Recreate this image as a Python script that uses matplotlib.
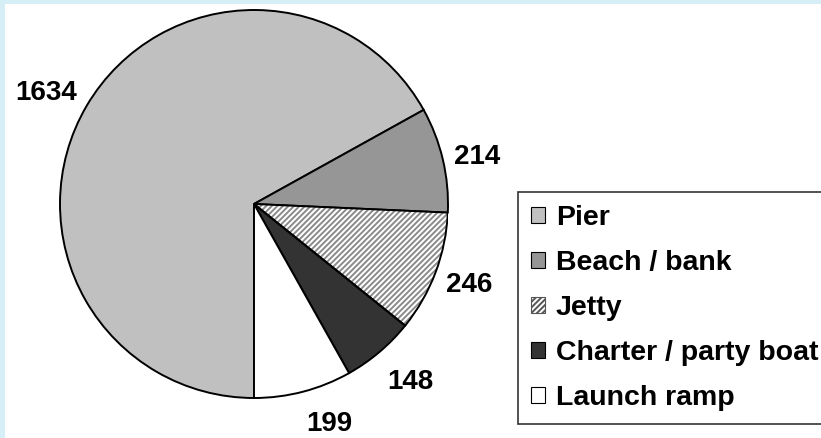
import matplotlib
matplotlib.use("Agg")
import matplotlib.pyplot as plt
from matplotlib.patches import Rectangle, Wedge
import numpy as np

plt.rcParams['font.family'] = ['Liberation Sans', 'DejaVu Sans']
plt.rcParams['hatch.linewidth'] = 1.4

# data
categories = ["Pier", "Beach / bank", "Jetty", "Charter / party boat", "Launch ramp"]
counts = [1634, 214, 246, 148, 199]
colors = ["#c0c0c0", "#969696", "white", "#333333", "white"]

W, H = 821, 438
fig = plt.figure(figsize=(W / 100, H / 100), dpi=100)
fig.patch.set_facecolor("white")

# light blue strips on the top and left edges
fig.patches.append(Rectangle((0, 0), 5 / W, 1, transform=fig.transFigure,
                             facecolor="#d6eef5", edgecolor="none"))
fig.patches.append(Rectangle((0, 1 - 4 / H), 1, 4 / H, transform=fig.transFigure,
                             facecolor="#d6eef5", edgecolor="none"))

cx, cy, r = 254, 204, 194
ax = fig.add_axes([(cx - r) / W, (H - cy - r) / H, 2 * r / W, 2 * r / H])

lw = 1.4
wedges, _ = ax.pie(counts, colors=colors, startangle=-90, counterclock=False,
                   wedgeprops=dict(edgecolor="black", linewidth=lw))

# jetty: gray hatching, black outline on top
jw = wedges[2]
jw.set_hatch("//////")
jw.set_edgecolor("#8a8a8a")
jw.set_linewidth(0)
ax.add_patch(Wedge(jw.center, jw.r, jw.theta1, jw.theta2, fill=False,
                   edgecolor="black", linewidth=lw, zorder=3))

# value labels just outside the rim, aligned away from the pie
for w, val in zip(wedges, counts):
    ang = np.deg2rad((w.theta1 + w.theta2) / 2)
    c, s = np.cos(ang), np.sin(ang)
    ha = "left" if c > 0 else "right"
    va = "baseline" if s > 0.45 else ("top" if s < -0.45 else "center")
    dy = -6 if s < 0 else 0
    ax.annotate(str(val), (1.06 * c, 1.06 * s), xytext=(0, dy),
                textcoords="offset points", ha=ha, va=va,
                fontsize=20, fontweight="bold", annotation_clip=False)

ax.set_xlim(-1, 1)
ax.set_ylim(-1, 1)
ax.axis("off")

leg = fig.legend(wedges, categories, loc="upper left",
                 bbox_to_anchor=(518 / W, 1 - 192 / H),
                 prop=dict(size=20.5, weight="bold"),
                 handlelength=0.49, handleheight=0.49, handletextpad=0.39,
                 labelspacing=0.67, borderpad=0.45, borderaxespad=0,
                 fancybox=False, frameon=True)
leg.get_frame().set_edgecolor("black")
leg.get_frame().set_linewidth(1.2)
for h in leg.legend_handles:
    h.set_edgecolor("black")
    h.set_linewidth(0.8)
leg.legend_handles[2].set_edgecolor("#555555")

fig.savefig("out.png", dpi=100)
